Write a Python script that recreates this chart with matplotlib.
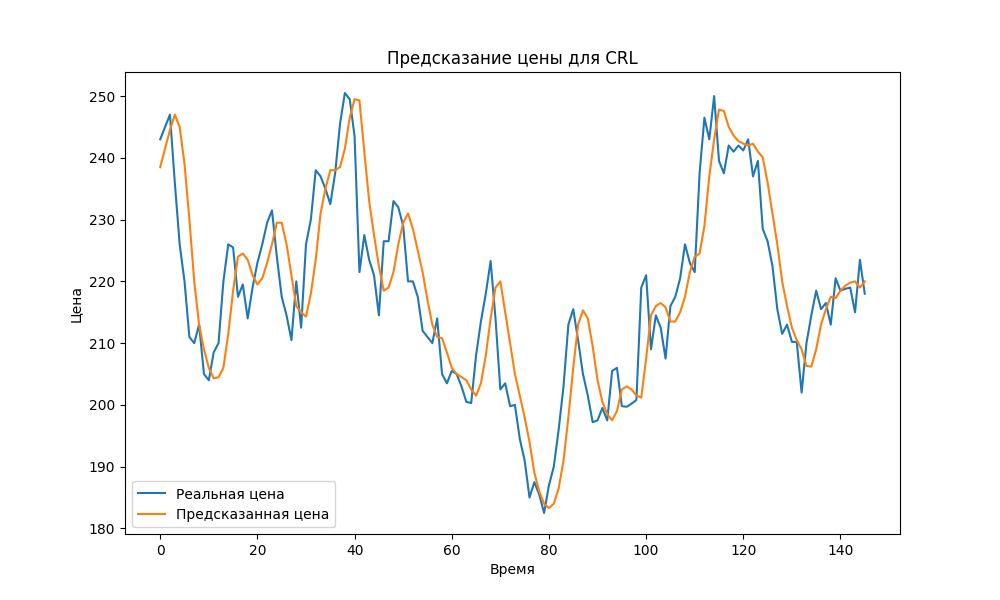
import matplotlib
matplotlib.use("Agg")
import matplotlib.pyplot as plt

real = [243,245,247,236,226,220,211,210,213,205,204,208.5,210,220,226,225.5,217.5,219.5,214,219,
        223,226,229.5,231.5,224,217.5,214.5,210.5,220,212.5,226,230,238,237,235,232.5,237.5,245.5,250.5,249.5,
        243.5,221.5,227.5,223.5,221,214.5,226.5,226.5,233,232,229,220,220,217.5,212,211,210,214,205,203.5,
        205.5,205,203,200.5,200.3,208,213.5,218,223.3,214,202.5,203.5,199.8,200,194.5,191,185,187.5,185.5,182.5,
        187,190,196,203,213,215.5,210.5,205,201.5,197.2,197.5,199.5,197.5,205.5,206,199.8,199.7,200.2,200.8,219,
        221,209,214.5,212.5,207.5,216,217.5,220.5,226,223,221.5,237.5,246.5,243,250,239.5,237.5,242,241,242,
        241.2,243,237,239.5,228.5,226.5,222.5,215.5,211.5,213,210.2,210.2,202,210,214.5,218.5,215.5,216.5,213,220.5,
        218.5,218.8,219,215,223.5,218]
pred = [238.5,241.5,244.5,247,245,239,230,220,213,209,206,204.3,204.5,206,211.5,218.5,224,224.5,223.5,221,
        219.5,220.5,223,226,229.5,229.5,226,221,216,215,214.3,218,223.5,231,235,238,238,238.5,241.5,246.5,
        249.5,249.3,241,233,227.5,222.5,218.5,219,221.5,226,229.5,231,228.5,225,221.5,217,213,211,210.8,208.5,
        206,205,204.5,204,202.5,201.5,203.5,208,214,219,220,215,210,205,201.5,198,194,189,186,184,
        183.3,184,186.5,191,198,206,213,215.3,214,209.5,204,200.5,198.5,197.5,199,202.5,203,202.5,201.5,201.2,
        207.5,214.5,216,216.5,215.8,213.5,213.5,215,217.5,221.5,224,224.5,229,237,243,247.8,247.6,245,243.6,242.7,
        242.3,242,242.3,241,240.1,236,231,226,220,216,212.5,210.5,209,206.3,206.2,209,213,215.5,217.5,217.3,
        218.5,219.3,219.8,220,219,220]

fig, ax = plt.subplots(figsize=(10, 6), dpi=100)
ax.plot(range(len(real)), real, label="Реальная цена")
ax.plot(range(len(pred)), pred, label="Предсказанная цена")
ax.set_title("Предсказание цены для CRL")
ax.set_xlabel("Время")
ax.set_ylabel("Цена")
ax.legend(loc="lower left")
fig.savefig("out.png")
